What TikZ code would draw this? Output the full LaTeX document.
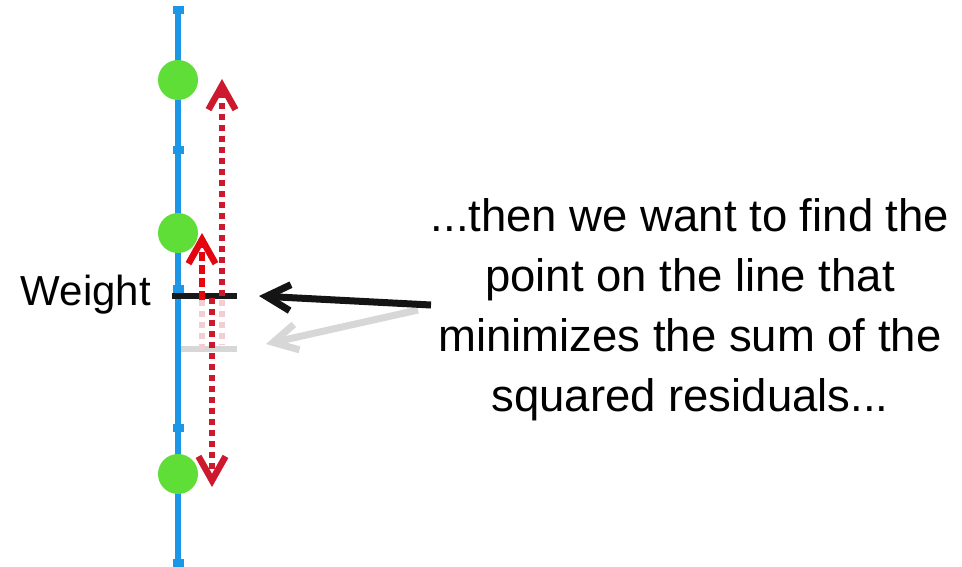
\documentclass[tikz,border=0pt]{standalone}
\usepackage{fontspec}
\setmainfont{Liberation Sans}
\usetikzlibrary{arrows.meta}
\definecolor{axisblue}{RGB}{28,150,230}
\definecolor{dotgreen}{RGB}{95,222,55}
\definecolor{resred}{RGB}{205,25,45}
\definecolor{resbright}{RGB}{228,5,15}
\definecolor{fadepink}{RGB}{242,205,210}
\definecolor{fadegrey}{RGB}{215,215,215}
\begin{document}
\begin{tikzpicture}[x=1pt,y=-1pt,
  dot/.style={circle,fill=dotgreen,minimum size=40pt,inner sep=0pt},
  tickbox/.style={fill=axisblue,minimum width=11pt,minimum height=8pt,inner sep=0pt},
  resid/.style={line width=6.5pt,dash pattern=on 6pt off 5pt,
    -{Straight Barb[length=24pt,width=27pt,line width=6.5pt]}},
  ghost/.style={line width=6.5pt,dash pattern=on 6pt off 5pt,draw=fadepink},
  pointer/.style={line width=7pt,-{Straight Barb[length=24pt,width=26pt,line width=7pt]}},
  lbl/.style={inner sep=0pt,font=\fontsize{45.5}{60}\selectfont}
]
\useasboundingbox (0,0) rectangle (962,566);
\fill[white] (0,0) rectangle (962,566);

% faded previous position
\draw[line width=6.5pt,fadegrey] (175,349) -- (237,349);
\draw[ghost] (202,300) -- (202,352);
\draw[ghost] (222,300) -- (222,345);

% axis
\coordinate (atop) at (178,10);
\coordinate (abot) at (178,566);
\draw[line width=6.5pt,axisblue] (atop) -- (abot);
\foreach \ty [count=\i] in {10,150,289,428,563}
  \node[tickbox] (t\i) at (178,\ty) {};

% mean line
\coordinate (mL) at (172,296);
\coordinate (mR) at (237,296);
\draw[line width=6.5pt,black!90] (mL) -- (mR);

% data points
\node[dot] (p1) at (178,80) {};
\node[dot] (p2) at (178,233) {};
\node[dot] (p3) at (178,474) {};

% residuals
\coordinate (r1s) at (222,296);
\coordinate (r1e) at (222,79);
\coordinate (r2s) at (202,300);
\coordinate (r2e) at (202,233);
\coordinate (r3s) at (212,298);
\coordinate (r3e) at (212,487);
\draw[resid,draw=resred] (r1s) -- (r1e);
\draw[resid,draw=resred] (r3s) -- (r3e);
\draw[resid,draw=resbright,dash pattern=on 9pt off 4pt] (r2s) -- (r2e);

% labels
\node[lbl,font=\fontsize{42}{50}\selectfont,anchor=base east] (w) at (151,305) {Weight};
\node[lbl,align=center] (txt) at (690,310)
  {...then we want to find the\\point on the line that\\minimizes the sum of the\\squared residuals...};

% pointers
\coordinate (g0) at (418,310);
\coordinate (g1) at (266,344);
\coordinate (b0) at (431,305);
\coordinate (b1) at (259,296);
\draw[pointer,fadegrey] (g0) -- (g1);
\draw[pointer,black!92] (b0) -- (b1);
\end{tikzpicture}
\end{document}
